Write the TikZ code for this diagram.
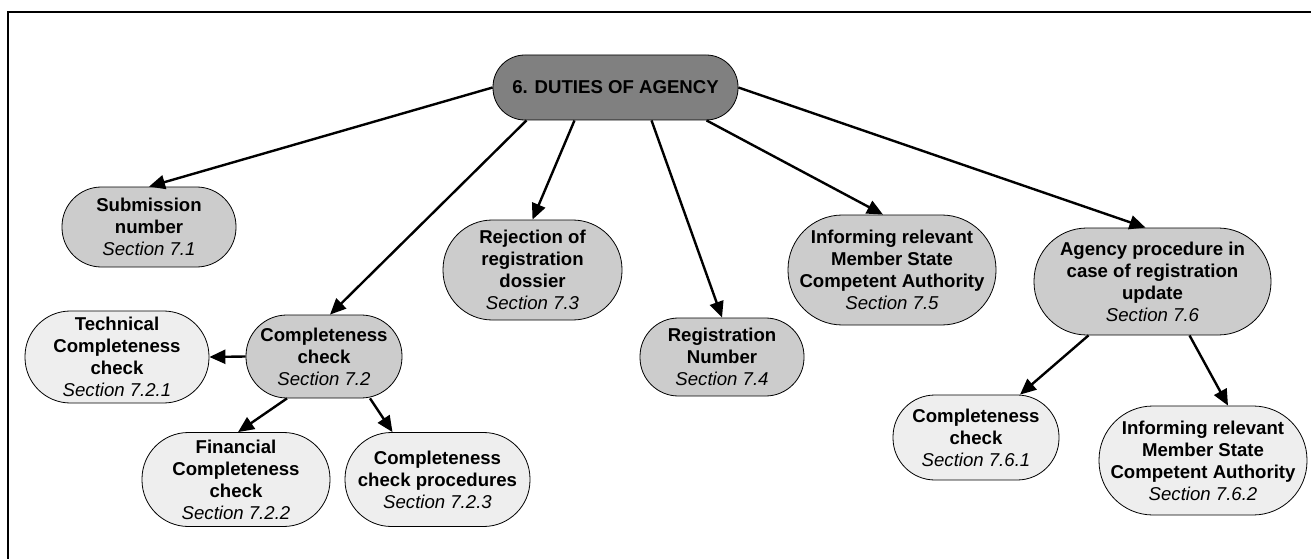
\documentclass[tikz,border=0pt]{standalone}
\usepackage{fontspec}
\setmainfont{Liberation Sans}
\usetikzlibrary{arrows.meta}
\definecolor{rootgray}{RGB}{128,128,128}
\definecolor{midgray}{RGB}{204,204,204}
\definecolor{lightgray}{RGB}{238,238,238}
\newcommand\secline[1]{{\mdseries\itshape Section #1}}
\begin{document}
\begin{tikzpicture}[x=1pt,y=-1pt,
  pill/.style 2 args={draw=black, line width=0.8pt, inner sep=0pt, align=center,
    minimum width=#1pt, minimum height=#2pt, rounded corners={#2*0.5pt-0.6pt},
    font=\fontsize{18.6pt}{22pt}\selectfont\bfseries},
  lvlone/.style={fill=rootgray},
  lvltwo/.style={fill=midgray},
  lvlthree/.style={fill=lightgray},
  arr/.style={line width=2.4pt, -{Triangle[length=16pt,width=14pt]}}]
\useasboundingbox (0,0) rectangle (1311,559);
\draw[line width=2pt] (8,559) -- (8,12.5) -- (1311,12.5);

\node[pill={245}{65}, lvlone] (root) at (615.5,87.5) {6. DUTIES OF AGENCY};

\node[pill={174}{80}, lvltwo] (sub) at (149,227) {Submission\\number\\\secline{7.1}};
\node[pill={156}{83}, lvltwo] (cc) at (324,356.5) {Completeness\\check\\\secline{7.2}};
\node[pill={179}{100}, lvltwo] (rej) at (532.5,270) {Rejection of\\registration\\dossier\\\secline{7.3}};
\node[pill={164}{78}, lvltwo] (reg) at (722,357) {Registration\\Number\\\secline{7.4}};
\node[pill={208}{110}, lvltwo] (infa) at (892,270) {Informing relevant\\Member State\\Competent Authority\\\secline{7.5}};
\node[pill={237}{107}, lvltwo] (agency) at (1152.5,281.5) {Agency procedure in\\case of registration\\update\\\secline{7.6}};

\node[pill={184}{92}, lvlthree] (tech) at (117,357) {Technical\\Completeness\\check\\\secline{7.2.1}};
\node[pill={188}{94}, lvlthree] (fin) at (236,479.5) {Financial\\Completeness\\check\\\secline{7.2.2}};
\node[pill={185}{94}, lvlthree] (proc) at (437.5,479.5) {Completeness\\check procedures\\\secline{7.2.3}};
\node[pill={166}{85}, lvlthree] (cvi) at (976,437.5) {Completeness\\check\\\secline{7.6.1}};
\node[pill={208}{109}, lvlthree] (infb) at (1203,460.5) {Informing relevant\\Member State\\Competent Authority\\\secline{7.6.2}};

\draw[arr] (root.west) -- (sub.north);
\draw[arr] ([xshift=-89pt]root.south) -- ([xshift=6pt]cc.north);
\draw[arr] ([xshift=-41pt]root.south) -- (rej.north);
\draw[arr] ([xshift=36pt]root.south) -- (reg.north);
\draw[arr] ([xshift=91pt]root.south) -- ([xshift=-9pt]infa.north);
\draw[arr] (root.east) -- ([xshift=-7pt]agency.north);
\draw[arr] (cc.west) -- (tech.east);
\draw[arr] ([xshift=-37pt]cc.south) -- ([xshift=2pt]fin.north);
\draw[arr] ([xshift=46pt]cc.south) -- ([xshift=-45pt]proc.north);
\draw[arr] ([xshift=-64pt]agency.south) -- ([xshift=44pt]cvi.north);
\draw[arr] ([xshift=37pt]agency.south) -- ([xshift=25pt]infb.north);
\end{tikzpicture}
\end{document}
